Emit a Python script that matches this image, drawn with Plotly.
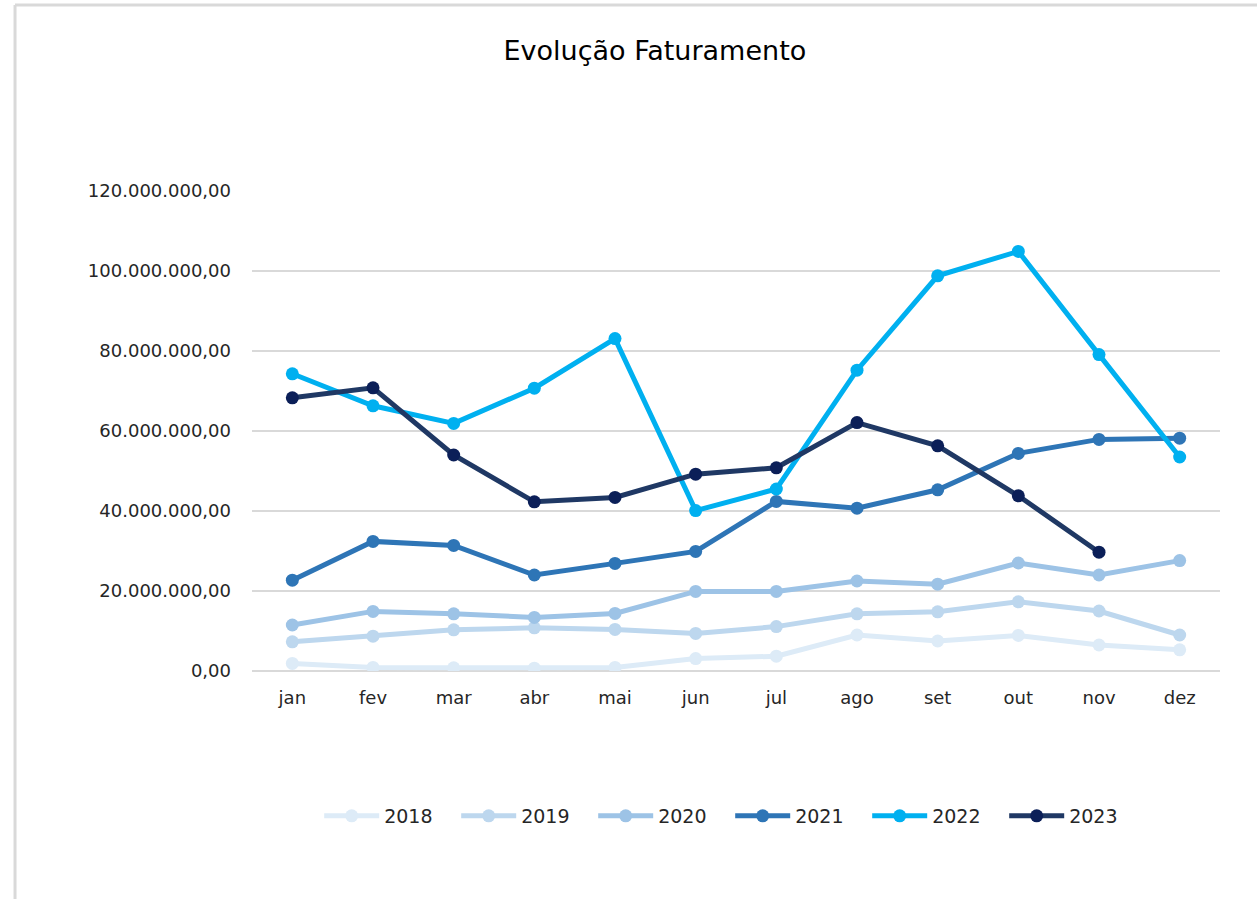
import plotly.graph_objects as go

months = ["jan", "fev", "mar", "abr", "mai", "jun", "jul", "ago", "set", "out", "nov", "dez"]
years = ["2018", "2019", "2020", "2021", "2022", "2023"]

v2018 = [1.9, 0.9, 0.8, 0.7, 0.9, 3.1, 3.7, 9.0, 7.5, 8.9, 6.5, 5.3]
v2019 = [7.3, 8.7, 10.3, 10.8, 10.4, 9.4, 11.1, 14.3, 14.8, 17.3, 15.0, 9.0]
v2020 = [11.5, 14.9, 14.3, 13.4, 14.4, 19.9, 19.9, 22.5, 21.7, 27.0, 24.0, 27.6]
v2021 = [22.7, 32.4, 31.4, 24.0, 26.9, 29.9, 42.4, 40.7, 45.3, 54.4, 57.9, 58.2]
v2022 = [74.3, 66.3, 61.9, 70.7, 83.1, 40.1, 45.5, 75.2, 98.8, 104.9, 79.1, 53.5]
v2023 = [68.3, 70.8, 54.0, 42.3, 43.4, 49.2, 50.8, 62.1, 56.3, 43.8, 29.7, None]

series = [v2018, v2019, v2020, v2021, v2022, v2023]
line_colors = ["#DDEBF7", "#BDD7EE", "#9DC3E6", "#2E75B6", "#00B0F0", "#1F3864"]
marker_colors = ["#DDEBF7", "#BDD7EE", "#9DC3E6", "#2E75B6", "#00B0F0", "#0B1F58"]

FONT = "DejaVu Sans"

fig = go.Figure()
for name, vals, lc, mc in zip(years, series, line_colors, marker_colors):
    fig.add_trace(go.Scatter(
        x=months,
        y=[None if v is None else v * 1_000_000 for v in vals],
        name=name,
        mode="lines+markers",
        line=dict(color=lc, width=5),
        marker=dict(color=mc, size=13),
        hovertemplate="%{x}: %{y:,.2f}<extra>" + name + "</extra>",
    ))

fig.update_layout(
    width=1257,
    height=899,
    autosize=False,
    separators=",.",
    paper_bgcolor="white",
    plot_bgcolor="white",
    margin=dict(l=252, r=37, t=191, b=228),
    font=dict(family=FONT, color="#262626", size=18),
    title=dict(
        text="Evolução Faturamento",
        x=0.521, xref="container", xanchor="center",
        y=0.944, yref="container", yanchor="middle",
        font=dict(family=FONT, size=27, color="#000000"),
    ),
    showlegend=True,
    legend=dict(
        orientation="h",
        x=0.494, xanchor="center",
        y=-0.302, yanchor="middle",
        font=dict(family=FONT, size=19, color="#262626"),
        itemwidth=55,
        entrywidth=67,
        traceorder="normal",
    ),
    xaxis=dict(
        type="category",
        range=[-0.5, 11.5],
        showgrid=False,
        showline=False,
        zeroline=False,
        ticks="",
        ticklabelstandoff=14,
        tickfont=dict(family=FONT, size=18, color="#262626"),
    ),
    yaxis=dict(
        range=[0, 120_000_000],
        tickvals=[0, 20e6, 40e6, 60e6, 80e6, 100e6, 120e6],
        tickformat=",.2f",
        showgrid=True,
        gridcolor="#D9D9D9",
        gridwidth=2,
        zeroline=True,
        zerolinecolor="#D9D9D9",
        zerolinewidth=2,
        showline=False,
        ticks="",
        ticklabelstandoff=20,
        tickfont=dict(family=FONT, size=18, color="#262626"),
    ),
    shapes=[
        dict(type="line", xref="paper", yref="paper",
             x0=-0.2448, x1=-0.2448, y0=-0.62, y1=1.3875,
             line=dict(color="#D9D9D9", width=3), layer="below"),
        dict(type="line", xref="paper", yref="paper",
             x0=-0.2448, x1=1.1, y0=1.3875, y1=1.3875,
             line=dict(color="#D9D9D9", width=3), layer="below"),
    ],
)

fig.write_html(
    "out.html",
    config={"displayModeBar": False},
    post_script="document.body.style.margin='0';document.body.style.overflow='hidden';",
)
